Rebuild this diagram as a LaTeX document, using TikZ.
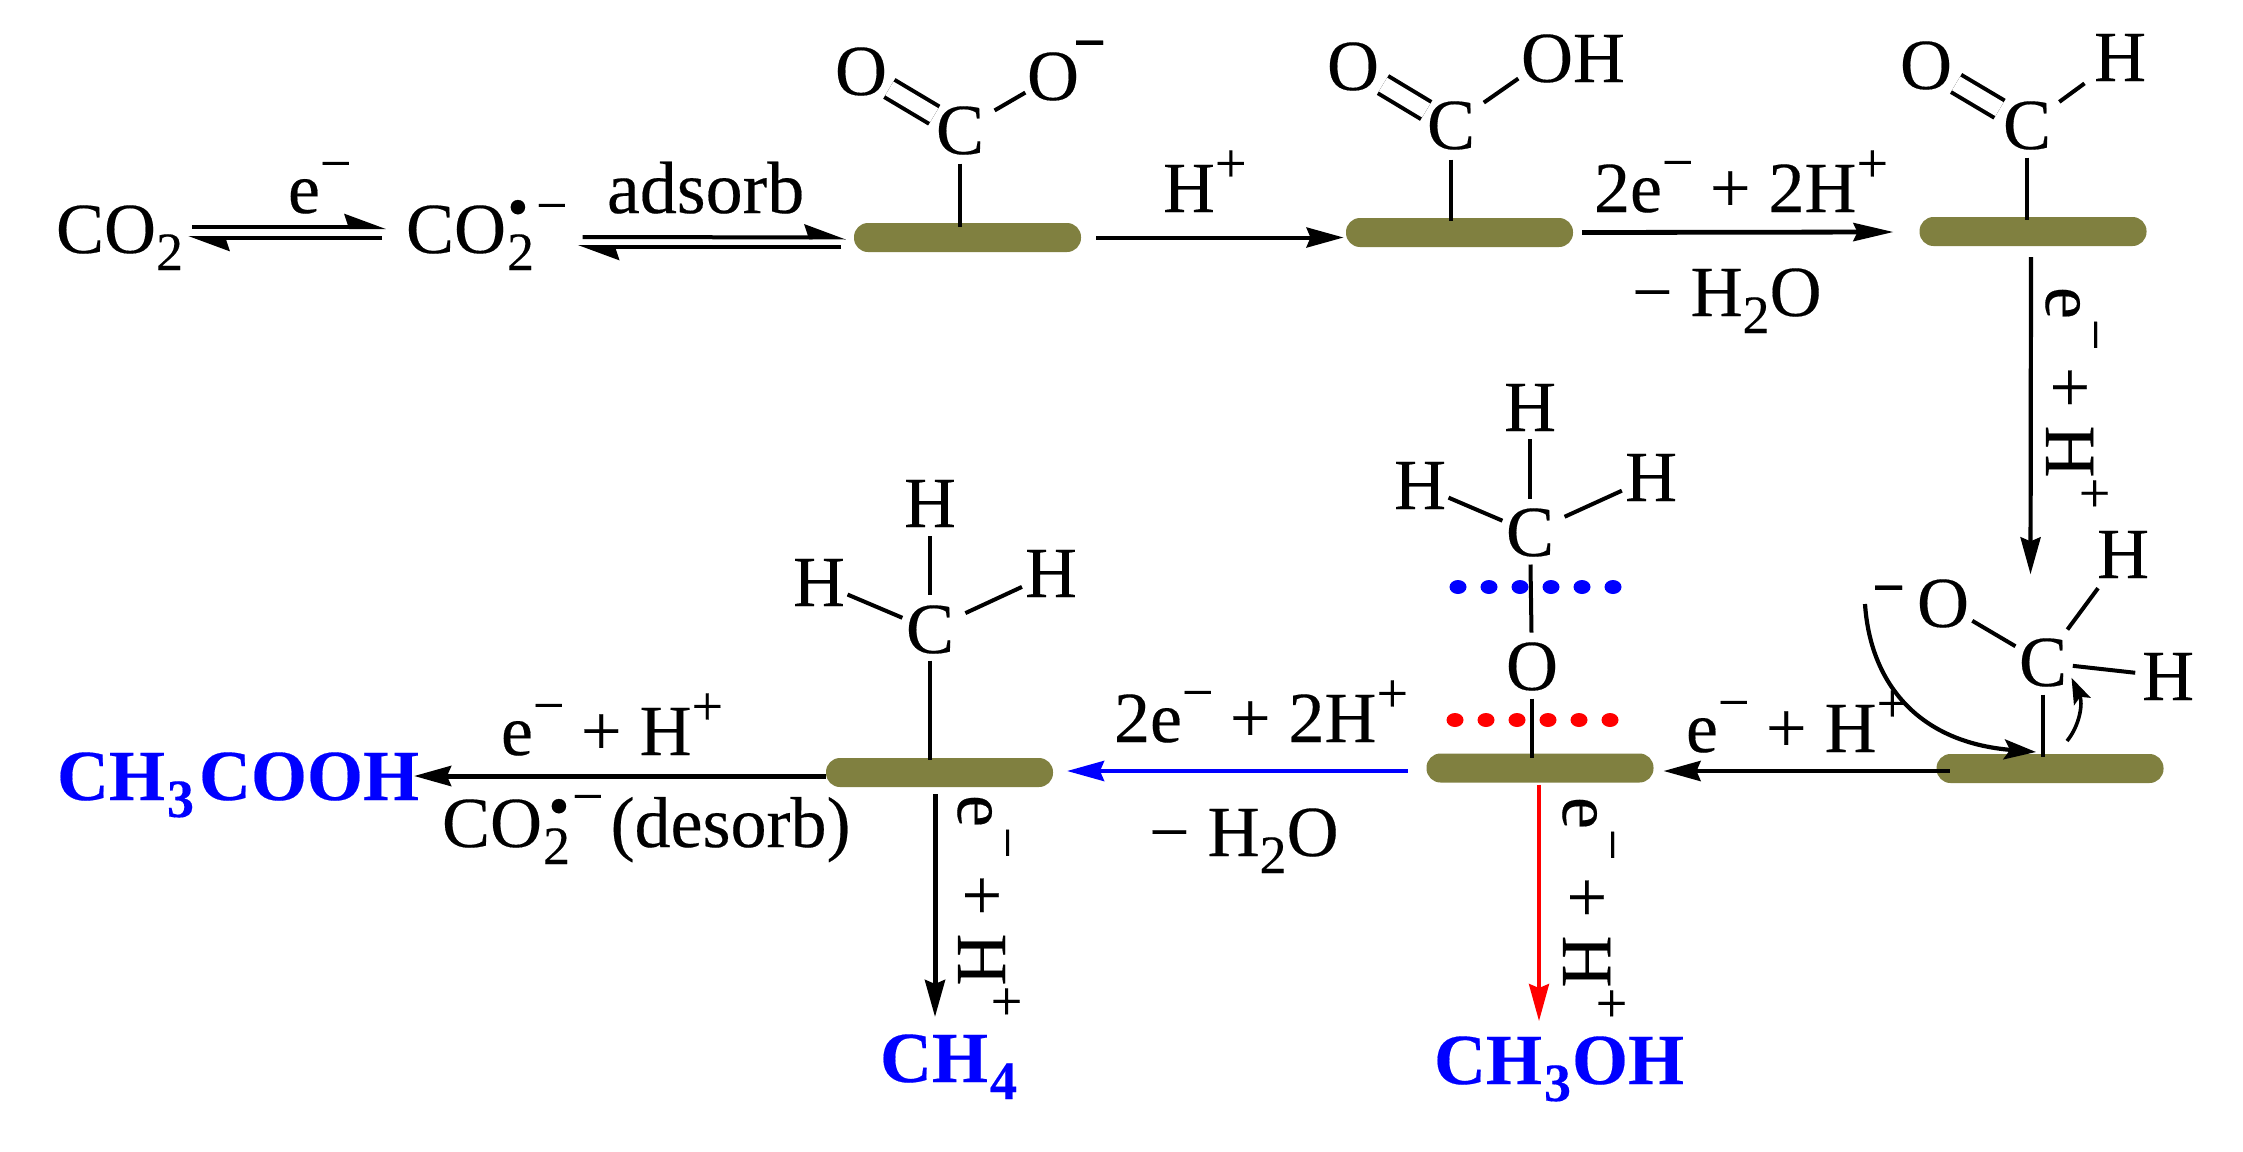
\documentclass[tikz,border=0pt]{standalone}
\usepackage{fontspec}
\setmainfont{Liberation Serif}[RawFeature={embolden=0.25}]
\usetikzlibrary{arrows.meta}
\newcommand\supm{\raisebox{15.5pt}{\fontsize{28}{28}\selectfont −}\kern-0.8pt}
\newcommand\supp{\raisebox{15pt}{\fontsize{28}{28}\selectfont +}}
\newcommand\subn[1]{\raisebox{-8.5pt}{\fontsize{27}{27}\selectfont #1}}
\newcommand\blt[2]{\rlap{\kern#1\raisebox{#2}{\fontsize{30}{30}\selectfont •}}}
\definecolor{barcol}{HTML}{808040}
\tikzset{
  txt/.style={inner sep=0pt,outer sep=0pt,anchor=base west,font=\fontsize{36}{40}\selectfont},
  atom/.style={txt,anchor=base},
  prod/.style={txt,text=blue,font=\fontsize{36}{40}\selectfont\bfseries},
  barnode/.style={fill=barcol,draw=none,rounded corners=7pt,minimum width=113.5pt,minimum height=14.5pt,inner sep=0pt,outer sep=0pt},
  bd/.style 2 args={line width=2pt,shorten <=#1pt,shorten >=#2pt},
  dbl/.style 2 args={line width=2pt,double,double distance=8pt,shorten <=#1pt,shorten >=#2pt},
  hd/.style={-{Stealth[length=18.5pt,width=10pt,inset=2pt]}},
  eqa/.style={line width=2pt,-{Stealth[harpoon,length=18pt,width=13pt,inset=2pt]}}
}
\begin{document}
\begin{tikzpicture}[x=0.5pt,y=-0.5pt]
\useasboundingbox (0,0) rectangle (2243,1151);
% surfaces
\node[barnode] (bar1) at (967.5,237.5) {};
\node[barnode] (bar2) at (1459.5,232.5) {};
\node[barnode] (bar3) at (2033,231.5) {};
\node[barnode] (bar5) at (2050,768.5) {};
\node[barnode] (bar4) at (1540,768) {};
\node[barnode] (bar6) at (939.5,772.5) {};
% species on the first row
\node[txt] (co2a) at (56,253) {CO\subn{2}};
\node[txt] (co2b) at (406,253) {CO\kern0.5pt\blt{0.2pt}{13pt}\subn{2}\kern1pt\raisebox{14.5pt}{\fontsize{28}{28}\selectfont −}};
\node[txt] (le) at (288,213) {e\supm};
\node[txt,font=\fontsize{37}{40}\selectfont] (lad) at (607,213) {adsorb};
\node[txt] (lh) at (1163,212) {H\supp};
\node[txt] (l2a) at (1594,212) {2e\supm{} + 2H\supp};
\node[txt] (lw1) at (1632,316) {− H\subn{2}O};
\node[txt,rotate=-90] (r1) at (2046,287) {e\supm{} + H\supp};
% first molecule
\node[atom] (c1) at (960,154) {C};
\node[atom] (o1a) at (861,95) {O};
\node[atom] (o1b) at (1053,100) {O};
\node[txt,font=\fontsize{29}{29}\selectfont\bfseries] (m1) at (1073,62) {−};
% second molecule
\node[atom] (c2) at (1451,149) {C};
\node[atom] (o2) at (1353,90) {O};
\node[txt] (oh2) at (1521,82) {OH};
\coordinate (oh2o) at ([shift={(26,0)}]oh2.west);
% third molecule
\node[atom] (c3) at (2027,149) {C};
\node[atom] (o3) at (1926,89) {O};
\node[atom] (h3) at (2120,81) {H};
% alkoxide
\node[atom] (c4) at (2043,686) {C};
\node[atom] (o4) at (1943,627) {O};
\node[atom] (h4a) at (2123,578) {H};
\node[atom] (h4b) at (2168,700) {H};
\node[txt,font=\fontsize{29}{29}\selectfont\bfseries] (m4) at (1872,607) {−};
% methoxy
\node[atom] (c5) at (1530,556) {C};
\node[atom] (h5t) at (1530,431) {H};
\node[atom] (h5l) at (1420,509) {H};
\node[atom] (h5r) at (1651,501) {H};
\node[atom] (o5) at (1532,690) {O};
% methyl
\node[atom] (c6) at (930,653) {C};
\node[atom] (h6t) at (930,527) {H};
\node[atom] (h6l) at (819,606) {H};
\node[atom] (h6r) at (1051,597) {H};
% lower labels
\node[txt] (l3) at (1686,752) {e\supm{} + H\supp};
\node[txt] (l4) at (1114,742) {2e\supm{} + 2H\supp};
\node[txt] (lw2) at (1149,856) {− H\subn{2}O};
\node[txt] (l5) at (501,755) {e\supm{} + H\supp};
\node[txt] (l6) at (442,847) {CO\kern0.5pt\blt{2.7pt}{10.5pt}\subn{2}\kern1pt\raisebox{16pt}{\fontsize{28}{28}\selectfont −}\kern3.5pt(desorb)};
\node[txt,rotate=-90] (r2) at (1563,797) {e\supm{} + H\supp};
\node[txt,rotate=-90] (r3) at (958,795) {e\supm{} + H\supp};
\node[prod] (ch3cooh) at (57,800) {CH\kern1pt\subn{3}\kern2.5ptCOOH};
\node[prod] (ch4) at (880,1082) {CH\kern1pt\subn{4}};
\node[prod] (ch3oh) at (1434,1084) {CH\kern1pt\subn{3}\kern0.5ptOH};
% dotted cleavage lines
\foreach \x in {1458,1489,1520,1551,1582,1613} \fill[blue] (\x,587) ellipse (8.5 and 7);
\foreach \x in {1455,1486,1517,1548,1579,1610} \fill[red] (\x,720) ellipse (8.5 and 7);
% bonds
\draw[dbl={15}{16.5}] (c1.center) -- (o1a.center);
\draw[bd={20}{16}] (c1.center) -- (o1b.center);
\draw[bd={16.5}{-2}] (c1.center) -- (c1.center |- bar1.north);
\draw[dbl={14.5}{17.5}] (c2.center) -- (o2.center);
\draw[bd={20}{17.5}] (c2.center) -- (oh2o);
\draw[bd={17}{-1.5}] (c2.center) -- (c2.center |- bar2.north);
\draw[dbl={16}{17.5}] (c3.center) -- (o3.center);
\draw[bd={20}{22}] (c3.center) -- (h3.center);
\draw[bd={16}{-1.5}] (c3.center) -- (c3.center |- bar3.north);
\draw[bd={16}{17}] (c4.center) -- (o4.center);
\draw[bd={20.5}{21}] (c4.center) -- (h4a.center);
\draw[bd={15}{16.5}] (c4.center) -- (h4b.center);
\draw[bd={16}{-1.5}] (c4.center) -- (c4.center |- bar5.north);
\draw[bd={17}{16}] (c5.center) -- (h5t.center);
\draw[bd={15}{15.5}] (c5.center) -- (h5l.center);
\draw[bd={19}{16}] (c5.center) -- (h5r.center);
\draw[bd={16}{17}] (c5.center) -- (o5.center);
\draw[bd={16}{-2}] (o5.center) -- (o5.center |- bar4.north);
\draw[bd={17.5}{16.5}] (c6.center) -- (h6t.center);
\draw[bd={15}{15.5}] (c6.center) -- (h6l.center);
\draw[bd={19.5}{16}] (c6.center) -- (h6r.center);
\draw[bd={15.5}{-1}] (c6.center) -- (c6.center |- bar6.north);
% equilibrium arrows
\draw[eqa] ([shift={(9,-26)}]co2a.base east) -- ([shift={(-20,-26)}]co2b.base west);
\draw[eqa] ([shift={(-24,-15)}]co2b.base west) -- ([shift={(5,-15)}]co2a.base east);
\draw[eqa] ([shift={(15,-16)}]co2b.base east) -- ([shift={(-8,0)}]bar1.west);
\draw[eqa] ([shift={(-13,9.5)}]bar1.west) -- ([shift={(10,-6)}]co2b.base east);
% reaction arrows
\draw[hd,line width=2pt] ([shift={(15,0)}]bar1.east) -- ([shift={(-2.5,5)}]bar2.west);
\draw[-{Stealth[length=20pt,width=9pt,inset=2pt]},line width=2.4pt] ([shift={(9,0)}]bar2.east) -- ([shift={(-26,0.5)}]bar3.west);
\draw[hd,line width=2.1pt] ([shift={(-2,11)}]bar3.south) -- ([shift={(-12.5,-64)}]c4.north);
\draw[hd,line width=2.2pt] ([shift={(13,2.5)}]bar5.west) -- ([shift={(10,3)}]bar4.east);
\draw[hd,line width=2.2pt,draw=blue,fill=blue] ([shift={(-19,3)}]bar4.west) -- ([shift={(14,-1.5)}]bar6.east);
\draw[hd,line width=2.5pt] ([shift={(0,3.5)}]bar6.west) -- ([shift={(-5,-24)}]ch3cooh.base east);
\draw[hd,line width=1.8pt,draw=red,fill=red] ([shift={(-1,2)}]bar4.south) -- ([shift={(105,-63)}]ch3oh.base west);
\draw[hd,line width=2.5pt] ([shift={(-4.5,7)}]bar6.south) -- ([shift={(55,-65)}]ch4.base west);
% electron-pushing arrows
\draw[-{Stealth[length=16pt,width=10pt,inset=3pt]},line width=2.1pt] ([shift={(-7,-3)}]m4.base west) .. controls (1870,680) and (1915,742) .. ([shift={(-14,-2)}]bar5.north);
\draw[-{Stealth[length=13pt,width=9pt,inset=2.5pt]},line width=1.8pt] ([shift={(17,-13)}]bar5.north) .. controls (2080,725) and (2083,703) .. ([shift={(28.5,-9)}]c4.south);
\end{tikzpicture}
\end{document}
